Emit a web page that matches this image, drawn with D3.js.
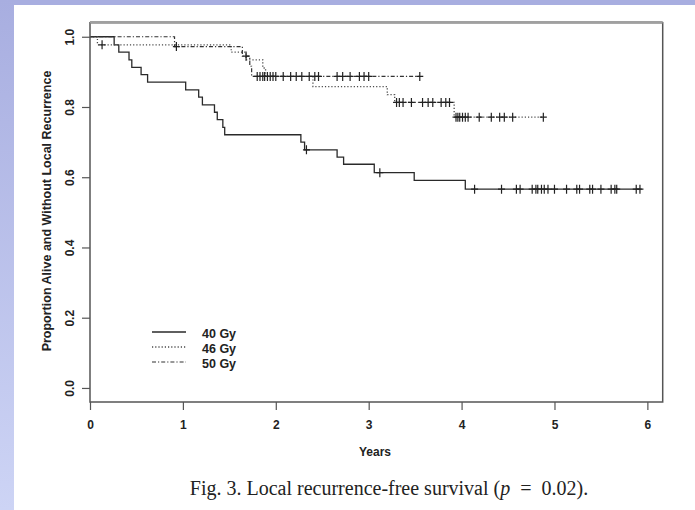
<!DOCTYPE html>
<html>
<head>
<meta charset="utf-8">
<script src="https://cdn.jsdelivr.net/npm/d3@7"></script>
<style>
  html, body { margin: 0; padding: 0; background: #fff; }
  svg { display: block; }
  text { font-family: "Liberation Sans", Arial, sans-serif; fill: #222; }
</style>
</head>
<body>
<svg id="chart" width="695" height="510"></svg>
<script>
// ---- data ----
const xTicks = [0, 1, 2, 3, 4, 5, 6];
const yTicks = [0.0, 0.2, 0.4, 0.6, 0.8, 1.0];
const seriesNames = ["40 Gy", "46 Gy", "50 Gy"];

// 40 Gy (solid)
const t40 = [0, 0.26, 0.31, 0.42, 0.45, 0.55, 0.62, 1.03, 1.17, 1.21, 1.34, 1.37, 1.43, 1.45, 2.27, 2.31, 2.66, 2.73, 3.06, 3.49, 4.04];
const s40 = [1, 0.977, 0.956, 0.934, 0.913, 0.892, 0.871, 0.849, 0.828, 0.806, 0.785, 0.764, 0.742, 0.721, 0.700, 0.678, 0.657, 0.637, 0.613, 0.591, 0.566];
const end40 = 5.94;
const c40 = [2.33, 3.12, 4.14, 4.43, 4.59, 4.63, 4.76, 4.80, 4.82, 4.86, 4.89, 4.93, 5.00, 5.13, 5.24, 5.27, 5.38, 5.41, 5.50, 5.61, 5.65, 5.67, 5.88, 5.92];

// 46 Gy (dotted)
const t46 = [0, 0.08, 1.52, 1.68, 1.86, 1.89, 2.40, 3.20, 3.28, 3.92];
const s46 = [1, 0.977, 0.956, 0.934, 0.911, 0.887, 0.858, 0.835, 0.813, 0.771];
const end46 = 4.88;
const c46 = [0.13, 3.30, 3.33, 3.37, 3.46, 3.58, 3.64, 3.69, 3.78, 3.83, 3.87, 3.94, 3.96, 3.98, 4.01, 4.04, 4.07, 4.19, 4.32, 4.41, 4.46, 4.55, 4.88];

// 50 Gy (dash-dot)
const t50 = [0, 0.91, 1.64, 1.72, 1.74];
const s50 = [1, 0.972, 0.945, 0.916, 0.887];
const end50 = 3.55;
const c50 = [0.93, 1.68, 1.80, 1.83, 1.86, 1.88, 1.91, 1.94, 1.97, 2.00, 2.08, 2.16, 2.22, 2.28, 2.36, 2.42, 2.46, 2.66, 2.72, 2.80, 2.90, 2.95, 3.00, 3.55];

const styles = [
  { dash: null, color: "#2a2a2a", width: 1.3 },
  { dash: "1.2,2", color: "#4a4a4a", width: 1.3 },
  { dash: "4,2,1.2,2", color: "#333", width: 1.2 }
];

const series = [
  { name: seriesNames[0], t: t40, s: s40, end: end40, c: c40 },
  { name: seriesNames[1], t: t46, s: s46, end: end46, c: c46 },
  { name: seriesNames[2], t: t50, s: s50, end: end50, c: c50 }
];

// ---- drawing ----
const svg = d3.select("#chart");
const W = 695, H = 510;

// page background (lavender bands top and left)
const defs = svg.append("defs");
const grad = defs.append("linearGradient").attr("id", "lg").attr("x1", 0).attr("y1", 0).attr("x2", 0).attr("y2", 1);
grad.append("stop").attr("offset", "0%").attr("stop-color", "#a8aee0");
grad.append("stop").attr("offset", "100%").attr("stop-color", "#cdd4f5");
svg.append("rect").attr("x", 0).attr("y", 0).attr("width", W).attr("height", H).attr("fill", "#fff");
svg.append("rect").attr("x", 0).attr("y", 0).attr("width", W).attr("height", 5).attr("fill", "#a8aee0");
svg.append("rect").attr("x", 0).attr("y", 0).attr("width", 14).attr("height", H).attr("fill", "url(#lg)");

const x = d3.scaleLinear().domain([0, 6.165]).range([90, 662.7]);
const y = d3.scaleLinear().domain([-0.04, 1.04]).range([402, 22.7]);

// curves
const stepLine = d3.line().x(d => x(d[0])).y(d => y(d[1])).curve(d3.curveStepAfter);

series.forEach((sr, i) => {
  const pts = sr.t.map((t, k) => [t, sr.s[k]]);
  pts.push([sr.end, sr.s[sr.s.length - 1]]);
  const st = styles[i];
  svg.append("path")
    .attr("d", stepLine(pts))
    .attr("fill", "none")
    .attr("stroke", st.color)
    .attr("stroke-width", st.width)
    .attr("stroke-dasharray", st.dash);
  // censor marks
  const valAt = tt => {
    let v = sr.s[0];
    for (let k = 0; k < sr.t.length; k++) if (sr.t[k] <= tt) v = sr.s[k];
    return v;
  };
  svg.append("g").selectAll("path").data(sr.c).join("path")
    .attr("d", tt => {
      const cx = x(tt), cy = y(valAt(tt));
      return `M${cx - 3.5},${cy}H${cx + 3.5}M${cx},${cy - 4.5}V${cy + 4.5}`;
    })
    .attr("stroke", "#222")
    .attr("stroke-width", 1.2)
    .attr("fill", "none");
});

// box
svg.append("rect")
  .attr("x", 90).attr("y", 22.7).attr("width", 662.7 - 90).attr("height", 402 - 22.7)
  .attr("fill", "none").attr("stroke", "#555").attr("stroke-width", 1.5);
svg.append("line")
  .attr("x1", 90).attr("x2", 662.7).attr("y1", 22.2).attr("y2", 22.2)
  .attr("stroke", "#a0a0a0").attr("stroke-width", 2.5);

// x axis
const xAxis = svg.append("g").attr("transform", "translate(0,402)")
  .call(d3.axisBottom(x).tickValues(xTicks).tickSize(8).tickPadding(10).tickFormat(d3.format("d")));
xAxis.select(".domain").remove();
xAxis.selectAll(".tick line").attr("stroke", "#555").attr("stroke-width", 1.2);
xAxis.selectAll(".tick text").attr("font-size", 12).attr("fill", "#222")
  .style("font-family", "'Liberation Sans', Arial, sans-serif").style("font-weight", "bold");

// y axis
const yAxis = svg.append("g").attr("transform", "translate(90,0)")
  .call(d3.axisLeft(y).tickValues(yTicks).tickSize(8).tickFormat(d3.format(".1f")));
yAxis.select(".domain").remove();
yAxis.selectAll(".tick line").attr("stroke", "#555").attr("stroke-width", 1.2);
yAxis.selectAll(".tick text")
  .attr("x", null).attr("dy", "0.35em")
  .attr("transform", "translate(-20,0) rotate(-90)")
  .attr("text-anchor", "middle")
  .attr("font-size", 12).attr("fill", "#222")
  .style("font-family", "'Liberation Sans', Arial, sans-serif").style("font-weight", "bold");

// axis titles
svg.append("text")
  .attr("transform", "translate(47,211) rotate(-90)")
  .attr("text-anchor", "middle").attr("dy", "0.35em")
  .attr("font-size", 12.5).style("font-weight", "bold").attr("fill", "#222")
  .text("Proportion Alive and Without Local Recurrence");
svg.append("text")
  .attr("x", 375).attr("y", 452).attr("dy", "0.35em")
  .attr("text-anchor", "middle").attr("font-size", 12).style("font-weight", "bold")
  .text("Years");

// legend
const legY = [332, 347, 362];
series.forEach((sr, i) => {
  const st = styles[i];
  svg.append("line")
    .attr("x1", 152).attr("x2", 186).attr("y1", legY[i]).attr("y2", legY[i])
    .attr("stroke", st.color).attr("stroke-width", st.width).attr("stroke-dasharray", st.dash);
  svg.append("text")
    .attr("x", 202).attr("y", legY[i] + 2).attr("dy", "0.35em")
    .attr("font-size", 12.5).style("font-weight", "bold")
    .text(sr.name);
});

// caption
const cap = svg.append("text")
  .attr("x", 389).attr("y", 495)
  .attr("text-anchor", "middle")
  .style("font-family", "'Liberation Serif', 'Times New Roman', serif")
  .attr("font-size", 20).attr("fill", "#111");
cap.append("tspan").text("Fig. 3. Local recurrence-free survival (");
cap.append("tspan").style("font-style", "italic").text("p");
cap.append("tspan").text("\u2002=\u20020.02).");
</script>
</body>
</html>
